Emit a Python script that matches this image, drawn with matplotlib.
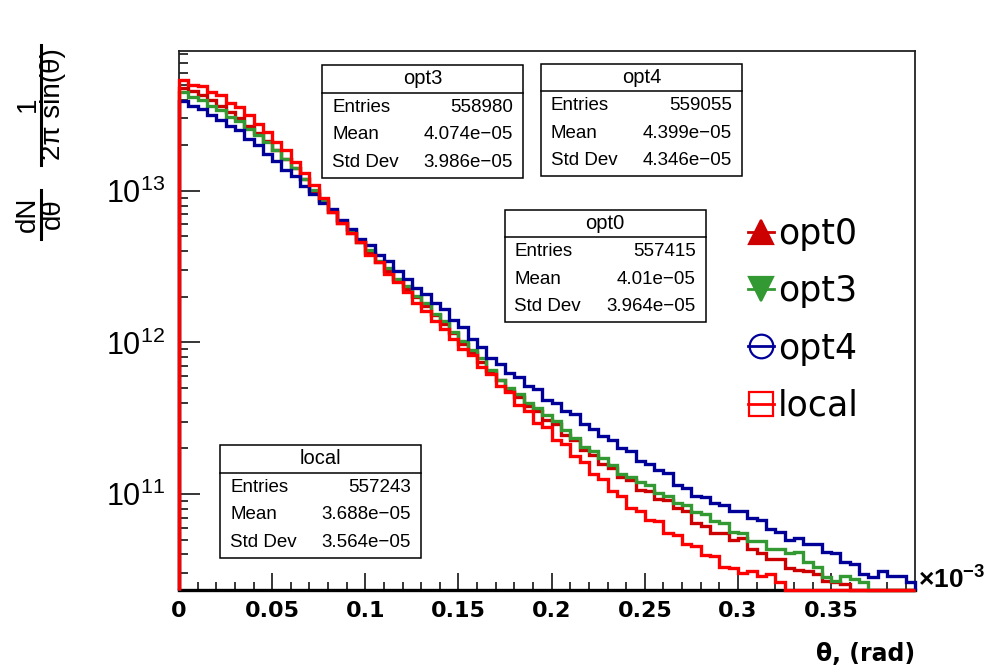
import numpy as np
import matplotlib
matplotlib.use("Agg")
import matplotlib.pyplot as plt
from matplotlib.ticker import LogLocator, MultipleLocator, NullFormatter
from matplotlib.lines import Line2D
from matplotlib.patches import Rectangle

# ---------------- data ----------------
theta_edges = np.linspace(0.0, 0.395, 80)   # theta in units of 1e-3 rad, 79 bins

opt0 = [4.79e13, 4.57e13, 4.27e13, 3.98e13, 3.63e13, 3.31e13, 3.02e13, 2.69e13, 2.40e13, 2.14e13,
        1.86e13, 1.62e13, 1.41e13, 1.20e13, 1.00e13, 8.51e12, 7.24e12, 6.17e12, 5.25e12, 4.57e12,
        3.89e12, 3.39e12, 2.95e12, 2.57e12, 2.24e12, 2.00e12, 1.74e12, 1.51e12, 1.32e12, 1.15e12,
        9.77e11, 8.71e11, 7.41e11, 6.46e11, 5.62e11, 4.79e11, 4.37e11, 3.80e11, 3.55e11, 3.09e11,
        2.88e11, 2.45e11, 2.29e11, 1.95e11, 1.82e11, 1.58e11, 1.48e11, 1.29e11, 1.23e11, 1.07e11,
        1.05e11, 9.33e10, 9.12e10, 8.13e10, 7.76e10, 6.46e10, 6.17e10, 5.50e10, 5.50e10, 5.01e10,
        5.13e10, 4.37e10, 4.07e10, 3.72e10, 3.72e10, 3.24e10, 3.16e10, 3.09e10, 2.95e10, 2.69e10,
        2.63e10, 2.57e10, 0, 0, 0, 0, 0, 0, 0]

opt3 = [4.47e13, 4.17e13, 3.98e13, 3.63e13, 3.39e13, 3.09e13, 2.88e13, 2.57e13, 2.34e13, 2.09e13,
        1.86e13, 1.62e13, 1.41e13, 1.20e13, 1.02e13, 8.51e12, 7.41e12, 6.31e12, 5.50e12, 4.57e12,
        4.07e12, 3.47e12, 3.09e12, 2.63e12, 2.34e12, 2.04e12, 1.82e12, 1.55e12, 1.38e12, 1.17e12,
        1.02e12, 8.91e11, 7.94e11, 6.61e11, 5.62e11, 5.01e11, 4.57e11, 3.98e11, 3.72e11, 3.31e11,
        3.02e11, 2.63e11, 2.34e11, 2.04e11, 1.91e11, 1.74e11, 1.55e11, 1.35e11, 1.29e11, 1.20e11,
        1.15e11, 1.02e11, 9.77e10, 8.71e10, 8.51e10, 7.59e10, 7.41e10, 6.61e10, 6.46e10, 5.62e10,
        5.50e10, 4.90e10, 4.90e10, 4.37e10, 4.37e10, 4.07e10, 4.17e10, 3.55e10, 3.31e10, 2.82e10,
        2.69e10, 2.88e10, 2.75e10, 2.63e10, 0, 0, 0, 0, 0]

opt4 = [3.89e13, 3.63e13, 3.47e13, 3.16e13, 2.95e13, 2.69e13, 2.51e13, 2.19e13, 2.00e13, 1.74e13,
        1.58e13, 1.38e13, 1.26e13, 1.07e13, 9.55e12, 8.32e12, 7.59e12, 6.46e12, 5.62e12, 4.79e12,
        4.37e12, 3.80e12, 3.47e12, 2.95e12, 2.63e12, 2.29e12, 2.09e12, 1.82e12, 1.66e12, 1.41e12,
        1.26e12, 1.05e12, 9.33e11, 7.94e11, 7.24e11, 6.31e11, 5.89e11, 5.13e11, 4.90e11, 4.17e11,
        3.98e11, 3.55e11, 3.39e11, 2.88e11, 2.69e11, 2.40e11, 2.29e11, 2.00e11, 1.91e11, 1.66e11,
        1.58e11, 1.45e11, 1.38e11, 1.15e11, 1.10e11, 9.77e10, 9.55e10, 8.71e10, 8.51e10, 7.76e10,
        7.76e10, 6.92e10, 6.76e10, 5.89e10, 5.62e10, 5.01e10, 5.13e10, 4.68e10, 4.68e10, 4.17e10,
        4.07e10, 3.55e10, 3.47e10, 2.95e10, 2.82e10, 3.09e10, 2.88e10, 2.88e10, 2.63e10]

local = [5.37e13, 5.01e13, 4.90e13, 4.47e13, 4.27e13, 3.80e13, 3.55e13, 3.16e13, 2.75e13, 2.45e13,
         2.09e13, 1.86e13, 1.55e13, 1.32e13, 1.10e13, 8.91e12, 7.24e12, 6.17e12, 5.25e12, 4.57e12,
         3.80e12, 3.39e12, 2.82e12, 2.51e12, 2.14e12, 1.82e12, 1.62e12, 1.38e12, 1.23e12, 1.05e12,
         9.12e11, 8.32e11, 6.92e11, 6.17e11, 5.13e11, 4.68e11, 3.89e11, 3.55e11, 2.95e11, 2.75e11,
         2.29e11, 2.14e11, 1.78e11, 1.62e11, 1.35e11, 1.26e11, 1.05e11, 9.77e10, 8.13e10, 7.76e10,
         6.76e10, 6.61e10, 5.50e10, 5.37e10, 4.68e10, 4.57e10, 3.98e10, 3.89e10, 3.31e10, 3.24e10,
         3.02e10, 3.09e10, 2.88e10, 2.95e10, 2.63e10, 0, 0, 0, 0, 0,
         0, 0, 0, 0, 0, 0, 0, 0, 0]

series_names = ["opt0", "opt3", "opt4", "local"]
series_values = [opt0, opt3, opt4, local]
series_colors = ["#cc0000", "#339933", "#000099", "#ff0000"]

stat_entries = ["557415", "558980", "559055", "557243"]
stat_means = ["4.01e\u221205", "4.074e\u221205", "4.399e\u221205", "3.688e\u221205"]
stat_stddevs = ["3.964e\u221205", "3.986e\u221205", "4.346e\u221205", "3.564e\u221205"]

x_ticks = [0, 0.05, 0.1, 0.15, 0.2, 0.25, 0.3, 0.35]
x_tick_labels = ["0", "0.05", "0.1", "0.15", "0.2", "0.25", "0.3", "0.35"]
y_ticks = [1e11, 1e12, 1e13]
y_tick_labels = [r"$10^{11}$", r"$10^{12}$", r"$10^{13}$"]

# ---------------- style ----------------
plt.rcParams["font.family"] = ["Liberation Sans", "DejaVu Sans"]
plt.rcParams["mathtext.fontset"] = "custom"
plt.rcParams["mathtext.rm"] = "Liberation Sans"
plt.rcParams["mathtext.it"] = "Liberation Sans:italic"
plt.rcParams["mathtext.bf"] = "Liberation Sans:bold"

W, H = 990, 670
def fx(x):
    return x / W
def fy(y):
    return 1 - y / H

fig = plt.figure(figsize=(W / 100, H / 100), dpi=100)
L, R, T, B = 179, 915, 50.7, 590
ax = fig.add_axes([fx(L), fy(B), (R - L) / W, (B - T) / H])
ax.set_yscale("log")
ymin, ymax = 2.33e10, 8.4e13
ax.set_xlim(0, 0.395)
ax.set_ylim(ymin, ymax)

for name, vals, col in zip(series_names, series_values, series_colors):
    v = np.asarray(vals, dtype=float)
    assert len(v) == len(theta_edges) - 1
    v = np.where(v > 0, v, ymin)
    ax.stairs(v, theta_edges, baseline=ymin, color=col, lw=2.4, clip_on=False, zorder=3)

# axes / ticks
for s in ax.spines.values():
    s.set_linewidth(1.3)
    s.set_color("#222222")
ax.spines["bottom"].set_linewidth(2.4)
ax.spines["bottom"].set_color("black")
ax.spines["bottom"].set_zorder(2)

ax.set_xticks(x_ticks, x_tick_labels, fontfamily="DejaVu Sans", fontweight="bold", fontsize=16)
ax.xaxis.set_minor_locator(MultipleLocator(0.01))
ax.set_yticks(y_ticks, y_tick_labels, fontsize=22)
ax.yaxis.set_minor_locator(LogLocator(base=10, subs=np.arange(2, 10)))
ax.yaxis.set_minor_formatter(NullFormatter())
ax.tick_params(axis="x", which="major", direction="in", length=12, width=1.1, pad=8,
               top=False, bottom=True)
ax.tick_params(axis="x", which="minor", direction="in", length=5.8, width=1.1, top=False)
ax.tick_params(axis="y", which="major", direction="in", length=15, width=1.1, pad=10,
               right=False)
ax.tick_params(axis="y", which="minor", direction="in", length=6.5, width=1.1, right=False)

# y axis title: dN/dθ · 1/(2π sin(θ)), rotated
ylab_fs = 20
fig.text(fx(28), fy(214), "dN", rotation=90, ha="center", va="center", fontsize=ylab_fs)
fig.text(fx(53), fy(214), "d\u03b8", rotation=90, ha="center", va="center", fontsize=ylab_fs)
fig.add_artist(Line2D([fx(40.5), fx(40.5)], [fy(190), fy(239)], transform=fig.transFigure,
                      color="black", lw=2.2))
fig.text(fx(28), fy(104), "1", rotation=90, ha="center", va="center", fontsize=ylab_fs)
fig.text(fx(53), fy(104), "2\u03c0 sin(\u03b8)", rotation=90, ha="center", va="center",
         fontsize=ylab_fs)
fig.add_artist(Line2D([fx(40.5), fx(40.5)], [fy(45), fy(165)], transform=fig.transFigure,
                      color="black", lw=2.2))

fig.text(fx(915), fy(654), "\u03b8, (rad)", ha="right", va="center", fontsize=17,
         fontweight="bold", fontfamily="DejaVu Sans")
fig.text(fx(918), fy(589), r"$\mathbf{\times10^{-3}}$", ha="left", va="baseline", fontsize=19)

# stat boxes
box_pos = {"opt0": (504.5, 209.5), "opt3": (322, 65), "opt4": (541, 63.5), "local": (220, 445)}
bw, bh = 201, 112.5
for i, name in enumerate(series_names):
    x0, y0 = box_pos[name]
    rect = Rectangle((fx(x0), fy(y0 + bh)), bw / W, bh / H, transform=fig.transFigure,
                     facecolor="white", edgecolor="black", lw=1.1, zorder=5)
    fig.add_artist(rect)
    fig.add_artist(Line2D([fx(x0), fx(x0 + bw)], [fy(y0 + 27.5), fy(y0 + 27.5)],
                          transform=fig.transFigure, color="black", lw=1.1, zorder=6))
    fig.text(fx(x0 + bw / 2), fy(y0 + 14), name, ha="center", va="center", fontsize=14.5, zorder=7)
    rows = [("Entries", stat_entries[i]), ("Mean", stat_means[i]), ("Std Dev", stat_stddevs[i])]
    for k, (lab, val) in enumerate(rows):
        yy = y0 + 42 + 27.7 * k
        fig.text(fx(x0 + 10), fy(yy), lab, ha="left", va="center", fontsize=13.5, zorder=7)
        fig.text(fx(x0 + bw - 10), fy(yy), val, ha="right", va="center", fontsize=13.5, zorder=7)

# legend
markers = ["^", "v", "o", "s"]
mfcs = ["#cc0000", "#339933", "none", "none"]
msizes = [17, 17, 17, 17]
handles = []
for col, m, mf, ms in zip(series_colors, markers, mfcs, msizes):
    handles.append(Line2D([], [], color=col, lw=2.0, marker=m, ms=ms, mfc=mf, mec=col, mew=1.6))
leg = ax.legend(handles, series_names, loc="upper left", bbox_to_anchor=(fx(748), fy(217)),
                bbox_transform=fig.transFigure, frameon=False, handlelength=0.75,
                handletextpad=0.12, labelspacing=0.67, borderpad=0, borderaxespad=0,
                numpoints=1, prop={"family": "DejaVu Sans", "size": 25})

fig.savefig("out.png", dpi=100)
